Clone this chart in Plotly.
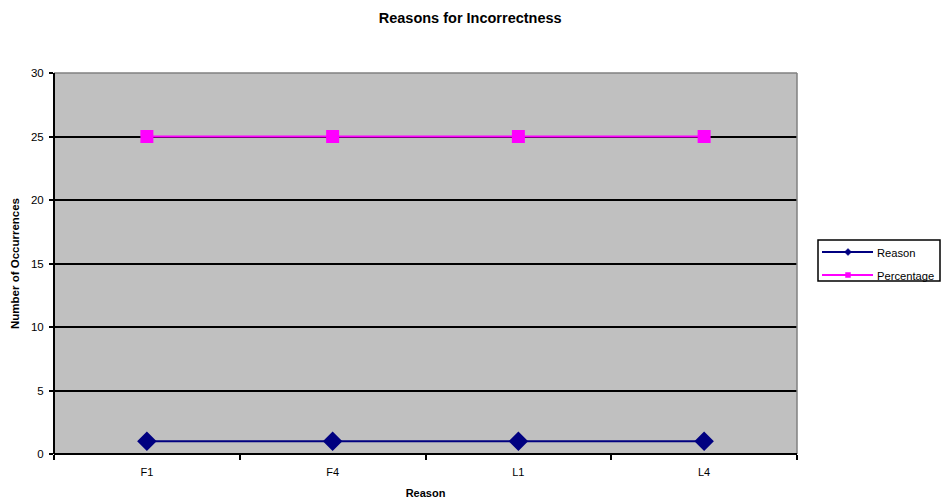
import plotly.graph_objects as go

categories = ["F1", "F4", "L1", "L4"]
reason = [1, 1, 1, 1]
percentage = [25, 25, 25, 25]
y_ticks = [0, 5, 10, 15, 20, 25, 30]
series_names = ["Reason", "Percentage"]
series_colors = ["#000080", "#FF00FF"]

W, H = 948, 499
L, R, T, B = 54, 151, 73, 45
PW, PH = W - L - R, H - T - B


def px_x(p):
    return (p - L) / PW


def px_y(p):
    return (H - B - p) / PH


fig = go.Figure()
fig.add_trace(go.Scatter(
    x=categories, y=reason, name=series_names[0], mode="lines+markers",
    line=dict(color=series_colors[0], width=2),
    marker=dict(symbol="diamond", size=15, color=series_colors[0]),
    showlegend=False,
))
fig.add_trace(go.Scatter(
    x=categories, y=percentage, name=series_names[1], mode="lines+markers",
    line=dict(color=series_colors[1], width=2),
    marker=dict(symbol="square", size=13, color=series_colors[1]),
    showlegend=False,
))

fig.update_layout(
    width=W, height=H,
    margin=dict(l=L, r=R, t=T, b=B),
    paper_bgcolor="white", plot_bgcolor="#C0C0C0",
    font=dict(family="Liberation Sans, Arial, sans-serif", size=11, color="black"),
    title=dict(text="<b>Reasons for Incorrectness</b>", x=0.496, xanchor="center",
               y=1 - 18 / H, yanchor="middle", font=dict(size=14.5)),
    showlegend=False,
    xaxis=dict(
        type="category", range=[-0.5, 3.5], showgrid=False, zeroline=False,
        ticks="outside", tickson="boundaries", ticklen=5, tickcolor="black",
        tickwidth=1.5, showline=False, automargin=False, ticklabelstandoff=10,
        title=dict(text="<b>Reason</b>", font=dict(size=11), standoff=12),
        tickfont=dict(size=11),
    ),
    yaxis=dict(
        range=[0, 30], tickvals=y_ticks, showgrid=True, gridcolor="black",
        gridwidth=1.5, zeroline=False, ticks="outside", ticklen=4,
        tickcolor="black", tickwidth=1.5, showline=False, automargin=False,
        ticklabelstandoff=3,
        title=dict(text="<b>Number of Occurrences</b>", font=dict(size=11.5), standoff=8),
        tickfont=dict(size=11.5),
    ),
)

# plot border: top/right gray, left/bottom black
fig.add_shape(type="line", xref="paper", yref="paper", x0=0, x1=1, y0=1, y1=1,
              line=dict(color="#808080", width=1.5))
fig.add_shape(type="line", xref="paper", yref="paper", x0=1, x1=1, y0=0, y1=1,
              line=dict(color="#808080", width=1.5))
fig.add_shape(type="line", xref="paper", yref="paper", x0=0, x1=0, y0=0, y1=1,
              line=dict(color="black", width=2))
fig.add_shape(type="line", xref="paper", yref="paper", x0=0, x1=1, y0=0, y1=0,
              line=dict(color="black", width=2))

# custom legend (Excel style: long line with small marker)
fig.add_shape(type="rect", xref="paper", yref="paper",
              x0=px_x(818), x1=px_x(940), y0=px_y(281), y1=px_y(240),
              line=dict(color="black", width=1.5), fillcolor="white")
rows = [252, 275]
for i, (name, color) in enumerate(zip(series_names, series_colors)):
    yy = px_y(rows[i])
    fig.add_shape(type="line", xref="paper", yref="paper",
                  x0=px_x(822), x1=px_x(873), y0=yy, y1=yy,
                  line=dict(color=color, width=2))
    cx, cy = 848, rows[i]
    if i == 0:
        path = (f"M{px_x(cx - 3.5)},{px_y(cy)} L{px_x(cx)},{px_y(cy - 3.5)} "
                f"L{px_x(cx + 3.5)},{px_y(cy)} L{px_x(cx)},{px_y(cy + 3.5)} Z")
        fig.add_shape(type="path", xref="paper", yref="paper", path=path,
                      fillcolor=color, line=dict(color=color, width=0.5))
    else:
        fig.add_shape(type="rect", xref="paper", yref="paper",
                      x0=px_x(cx - 2.5), x1=px_x(cx + 2.5),
                      y0=px_y(cy + 2.5), y1=px_y(cy - 2.5),
                      fillcolor=color, line=dict(color=color, width=0.5))
    fig.add_annotation(xref="paper", yref="paper", x=px_x(875), y=px_y(rows[i] + 0.5),
                       text=name, showarrow=False, xanchor="left", yanchor="middle",
                       font=dict(size=11.2))

fig.write_html("out.html")
